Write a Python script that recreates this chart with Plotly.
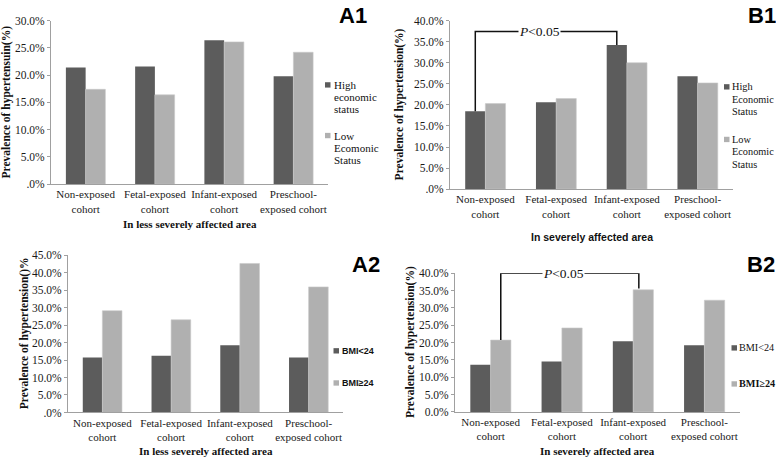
import plotly.graph_objects as go

# ---------------- data ----------------
categories = ["Non-exposed<br>cohort", "Fetal-exposed<br>cohort",
              "Infant-exposed<br>cohort", "Preschool-<br>exposed cohort"]

a1_high = [21.4, 21.6, 26.4, 19.8]
a1_low = [17.4, 16.4, 26.1, 24.2]
b1_high = [18.5, 20.6, 34.2, 26.8]
b1_low = [20.3, 21.5, 30.0, 25.2]
a2_bmi_lt = [15.7, 16.2, 19.2, 15.7]
a2_bmi_ge = [29.1, 26.5, 42.6, 35.9]
b2_bmi_lt = [13.6, 14.5, 20.4, 19.2]
b2_bmi_ge = [20.7, 24.2, 35.2, 32.2]

a1_ticks = [0, 5, 10, 15, 20, 25, 30]
a1_ticktext = [".0%", "5.0%", "10.0%", "15.0%", "20.0%", "25.0%", "30.0%"]
b1_ticks = [0, 5, 10, 15, 20, 25, 30, 35, 40]
b1_ticktext = [".0%", "5.0%", "10.0%", "15.0%", "20.0%", "25.0%", "30.0%", "35.0%", "40.0%"]
a2_ticks = [0, 5, 10, 15, 20, 25, 30, 35, 40, 45]
a2_ticktext = [".0%", "5.0%", "10.0%", "15.0%", "20.0%", "25.0%", "30.0%", "35.0%", "40.0%", "45.0%"]
b2_ticks = [0, 5, 10, 15, 20, 25, 30, 35, 40]
b2_ticktext = ["0.0%", "5.0%", "10.0%", "15.0%", "20.0%", "25.0%", "30.0%", "35.0%", "40.0%"]

a1_legend = [["High", "economic", "status"], ["Low", "Ecomonic", "Status"]]
b1_legend = [["High", "Economic", "Status"], ["Low", "Economic", "Status"]]
a2_legend = ["BMI&lt;24", "BMI≥24"]
b2_legend = ["BMI&lt;24", "<b>BMI≥24</b>"]

# ---------------- style ----------------
W, H = 776, 463
DARK = "#5c5c5c"
LIGHT = "#b0b0b0"
AXIS = "#a0a0a0"
SERIF = "Liberation Serif, Times New Roman, serif"
SANS = "Liberation Sans, Arial, sans-serif"


def px(x):
    return x / W


def py(y):
    return 1 - y / H


fig = go.Figure()

panels = [
    ("x", "y", a1_high, a1_low),
    ("x2", "y2", b1_high, b1_low),
    ("x3", "y3", a2_bmi_lt, a2_bmi_ge),
    ("x4", "y4", b2_bmi_lt, b2_bmi_ge),
]
for xa, ya, d1, d2 in panels:
    fig.add_trace(go.Bar(x=categories, y=d1, xaxis=xa, yaxis=ya,
                         marker=dict(color=DARK, line=dict(width=0)),
                         showlegend=False, offsetgroup="1"))
    fig.add_trace(go.Bar(x=categories, y=d2, xaxis=xa, yaxis=ya,
                         marker=dict(color=LIGHT, line=dict(width=0.6, color="#c9c9c9")),
                         showlegend=False, offsetgroup="2"))

common_x = dict(type="category", showline=True, linecolor=AXIS, linewidth=1,
                ticks="", showgrid=False, zeroline=False,
                tickfont=dict(family=SERIF, size=11, color="#1a1a1a"),
                range=[-0.5, 3.5], fixedrange=True)
common_y = dict(showline=True, linecolor=AXIS, linewidth=1, ticks="outside",
                ticklen=3, tickcolor=AXIS, showgrid=False, zeroline=False,
                tickfont=dict(family=SERIF, size=11.5, color="#1a1a1a"),
                fixedrange=True)

fig.update_layout(
    width=W, height=H,
    margin=dict(l=0, r=0, t=0, b=0),
    paper_bgcolor="white", plot_bgcolor="white",
    barmode="group", bargap=0.43, bargroupgap=0,
    xaxis=dict(common_x, domain=[px(51), px(328)], anchor="y"),
    yaxis=dict(common_y, domain=[py(183), py(15)], range=[0, 30],
               tickvals=a1_ticks, ticktext=a1_ticktext, anchor="x"),
    xaxis2=dict(common_x, domain=[px(450), px(733)], anchor="y2"),
    yaxis2=dict(common_y, domain=[py(188), py(15)], range=[0, 40],
                tickvals=b1_ticks, ticktext=b1_ticktext, anchor="x2"),
    xaxis3=dict(common_x, domain=[px(68), px(343)], anchor="y3"),
    yaxis3=dict(common_y, domain=[py(417.3), py(255.7)], range=[0, 45],
                tickvals=a2_ticks, ticktext=a2_ticktext, anchor="x3"),
    xaxis4=dict(common_x, domain=[px(455), px(740)], anchor="y4"),
    yaxis4=dict(common_y, domain=[py(416.7), py(274.3)], range=[0, 40],
                tickvals=b2_ticks, ticktext=b2_ticktext, anchor="x4"),
)

annotations = []
shapes = []


def ptext(x, y, text, size, family=SERIF, anchor="left", angle=0, color="#111"):
    annotations.append(dict(x=px(x), y=py(y), xref="paper", yref="paper",
                            text=text, showarrow=False, xanchor=anchor,
                            yanchor="middle", textangle=angle,
                            font=dict(family=family, size=size, color=color)))


# panel titles
ptext(353, 10, "<b>A1</b>", 22, SANS, "center", color="#000")
ptext(762, 10, "<b>B1</b>", 22, SANS, "center", color="#000")
ptext(366, 265, "<b>A2</b>", 22, SANS, "center", color="#000")
ptext(761, 265, "<b>B2</b>", 22, SANS, "center", color="#000")

# y-axis titles
ptext(6, 99, "<b>Prevalence of hypertensuin(%)</b>", 11.5, SERIF, "center", -90)
ptext(399, 101, "<b>Prevalence of hypertension(%)</b>", 11.5, SERIF, "center", -90)
ptext(24, 336, "<b>Prevalence of hypertension()%</b>", 11.5, SERIF, "center", -90)
ptext(410, 345, "<b>Prevalence of hypertension(%)</b>", 11.5, SERIF, "center", -90)

# x-axis titles
ptext(190, 224, "<b>In less severely affected area</b>", 11, SERIF, "center")
ptext(592, 237, "<b>In severely affected area</b>", 10.5, SANS, "center")
ptext(206, 457, "<b>In less severely affected area</b>", 11, SERIF, "center")
ptext(597, 457, "<b>In severely affected area</b>", 11, SERIF, "center")


def legend_sq(x, y, color):
    shapes.append(dict(type="rect", xref="paper", yref="paper",
                       x0=px(x), x1=px(x + 5.5), y0=py(y + 2.75), y1=py(y - 2.75),
                       fillcolor=color, line=dict(width=0)))


# A1 legend
legend_sq(325, 81, DARK)
for i, t in enumerate(a1_legend[0]):
    ptext(332, 81 + i * 12.5, t, 11)
legend_sq(325, 133, LIGHT)
for i, t in enumerate(a1_legend[1]):
    ptext(332, 133 + i * 12.5, t, 11)

# B1 legend
legend_sq(724, 83, DARK)
for i, t in enumerate(b1_legend[0]):
    ptext(730, 83 + i * 12.7, t, 10.3)
legend_sq(724, 137, LIGHT)
for i, t in enumerate(b1_legend[1]):
    ptext(730, 137 + i * 12.7, t, 10.3)

# A2 legend
legend_sq(333.5, 354, DARK)
ptext(340, 354, "<b>" + a2_legend[0] + "</b>", 9, SANS)
legend_sq(333.5, 387, LIGHT)
ptext(340, 387, "<b>" + a2_legend[1] + "</b>", 9, SANS)

# B2 legend
legend_sq(731.5, 351, DARK)
ptext(736.5, 351, b2_legend[0], 10.2)
legend_sq(731.5, 388, LIGHT)
ptext(736.5, 388, b2_legend[1], 10.2)

# significance brackets (data coordinates)
off = 0.1425
b1_top = 37.4
shapes.append(dict(type="path", xref="x2", yref="y2",
                   path=f"M {0 - off},{b1_high[0]} L {0 - off},{b1_top} "
                        f"L {2 - off},{b1_top} L {2 - off},{b1_high[2]}",
                   line=dict(color="#111", width=1.5)))
annotations.append(dict(x=0.76, y=b1_top, xref="x2", yref="y2",
                        text="<i>P</i>&lt;0.05", showarrow=False,
                        bgcolor="white", borderpad=0,
                        font=dict(family=SERIF, size=13.5, color="#111")))

b2_top = 40.0
shapes.append(dict(type="path", xref="x4", yref="y4",
                   path=f"M {0 + off},{b2_bmi_ge[0]} L {0 + off},{b2_top} "
                        f"L {2 + 0.08},{b2_top} L {2 + 0.08},{b2_bmi_ge[2] + 0.4}",
                   line=dict(color="#111", width=1.5)))
annotations.append(dict(x=1.02, y=b2_top, xref="x4", yref="y4",
                        text="<i>P</i>&lt;0.05", showarrow=False,
                        bgcolor="white", borderpad=0,
                        font=dict(family=SERIF, size=13.5, color="#111")))

fig.update_layout(annotations=annotations, shapes=shapes)
fig.write_html(
    "out.html",
    config={"displayModeBar": False},
    post_script="document.body.style.margin='0';document.body.style.overflow='hidden';"
                "document.documentElement.style.overflow='hidden';",
)
